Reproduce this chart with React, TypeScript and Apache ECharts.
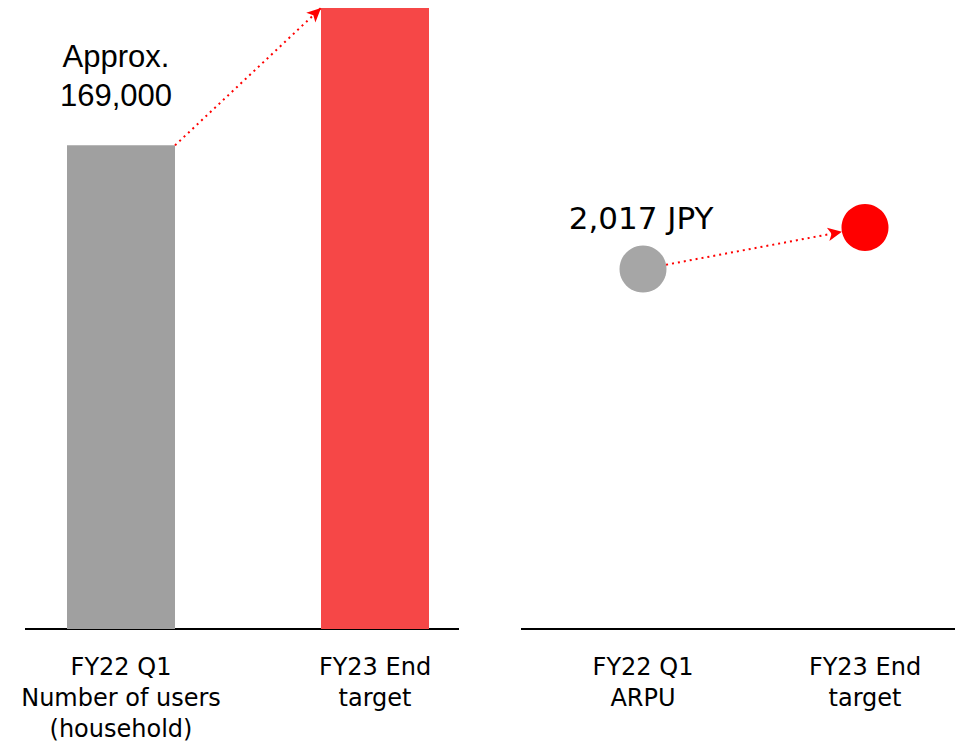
import React, { useEffect, useRef } from "react";
import * as echarts from "echarts";

// ---- data ----
const userCategories = ["FY22 Q1\nNumber of users\n(household)", "FY23 End\ntarget"];
const userValues = [169000, 217000];
const userValueLabels = ["Approx.\n169,000", ""];
const userColors = ["#a0a0a0", "#f64747"];

const arpuCategories = ["FY22 Q1\nARPU", "FY23 End\ntarget"];
const arpuValues = [2017, 2250];
const arpuValueLabels = ["2,017 JPY", ""];
const arpuColors = ["#a6a6a6", "#ff0000"];

const FONT_WIDE = "'DejaVu Sans', Verdana, sans-serif";
const FONT_NARROW = "'Liberation Sans', Arial, sans-serif";

export default function App() {
  const ref = useRef<HTMLDivElement>(null);

  useEffect(() => {
    document.body.style.margin = "0";
    if (!ref.current) return;
    const chart = echarts.init(ref.current, null, { renderer: "svg" });

    const BAR_W = 108;
    const SYM = 47;

    const axisLabel = {
      fontSize: 24,
      lineHeight: 31,
      color: "#000",
      fontFamily: FONT_WIDE,
      margin: 22,
      interval: 0,
    };

    chart.setOption({
      animation: false,
      backgroundColor: "#fff",
      textStyle: { fontFamily: FONT_WIDE },
      grid: [
        { left: -6, width: 508, top: 8, height: 621, outerBoundsMode: "none", containLabel: false },
        { left: 532, width: 444, top: 8, height: 621, outerBoundsMode: "none", containLabel: false },
      ],
      xAxis: [
        {
          type: "category",
          gridIndex: 0,
          data: userCategories,
          axisLine: { show: false },
          axisTick: { show: false },
          axisLabel,
        },
        {
          type: "category",
          gridIndex: 1,
          data: arpuCategories,
          axisLine: { show: false },
          axisTick: { show: false },
          axisLabel,
        },
      ],
      yAxis: [
        { type: "value", gridIndex: 0, min: 0, max: 217000, show: false },
        { type: "value", gridIndex: 1, min: 0, max: 3480, show: false },
      ],
      series: [
        {
          id: "users",
          type: "bar",
          xAxisIndex: 0,
          yAxisIndex: 0,
          barWidth: BAR_W,
          emphasis: { disabled: true },
          data: userValues.map((v, i) => ({
            value: v,
            itemStyle: { color: userColors[i], opacity: 1 },
            label: {
              show: userValueLabels[i] !== "",
              formatter: userValueLabels[i],
              position: "top",
              distance: 30,
              offset: [-5, 0],
              fontSize: 31,
              lineHeight: 39,
              color: "#000",
              fontFamily: FONT_NARROW,
            },
          })),
        },
        {
          id: "arpu",
          type: "scatter",
          xAxisIndex: 1,
          yAxisIndex: 1,
          symbol: "circle",
          symbolSize: SYM,
          emphasis: { disabled: true },
          itemStyle: { opacity: 1 },
          data: arpuValues.map((v, i) => ({
            value: v,
            itemStyle: { color: arpuColors[i], opacity: 1 },
            label: {
              show: arpuValueLabels[i] !== "",
              formatter: arpuValueLabels[i],
              position: "top",
              distance: 8,
              offset: [-2, 0],
              fontSize: 31,
              lineHeight: 39,
              color: "#000",
              opacity: 1,
              fontFamily: FONT_WIDE,
            },
          })),
        },
      ],
    });

    // arrows and baselines derived from the chart's own scales
    const g0 = chart.convertToPixel({ seriesIndex: 0 }, [0, userValues[0]]) as number[];
    const r0 = chart.convertToPixel({ seriesIndex: 0 }, [1, userValues[1]]) as number[];
    const base0 = chart.convertToPixel({ seriesIndex: 0 }, [0, 0]) as number[];
    const g1 = chart.convertToPixel({ seriesIndex: 1 }, [0, arpuValues[0]]) as number[];
    const r1 = chart.convertToPixel({ seriesIndex: 1 }, [1, arpuValues[1]]) as number[];
    const base1 = chart.convertToPixel({ seriesIndex: 1 }, [0, 0]) as number[];

    const dx = r1[0] - g1[0];
    const dy = r1[1] - g1[1];
    const len = Math.sqrt(dx * dx + dy * dy);
    const ux = dx / len;
    const uy = dy / len;
    const rad = SYM / 2;

    const markLineBase = {
      silent: true,
      symbol: ["none", "arrow"],
      symbolSize: [10, 14],
      label: { show: false },
      emphasis: { disabled: true },
      lineStyle: { color: "#ff0000", width: 2, type: [2, 4], opacity: 1 },
    };

    chart.setOption({
      series: [
        {
          id: "users",
          markLine: {
            ...markLineBase,
            data: [
              [
                { x: g0[0] + BAR_W / 2, y: g0[1] },
                { x: r0[0] - BAR_W / 2, y: r0[1] },
              ],
            ],
          },
        },
        {
          id: "arpu",
          markLine: {
            ...markLineBase,
            data: [
              [
                { x: g1[0] + ux * rad, y: g1[1] + uy * rad },
                { x: r1[0] - ux * rad, y: r1[1] - uy * rad },
              ],
            ],
          },
        },
      ],
      graphic: [
        {
          type: "line",
          silent: true,
          shape: { x1: 25, y1: base0[1], x2: 459, y2: base0[1] },
          style: { stroke: "#000", lineWidth: 2 },
        },
        {
          type: "line",
          silent: true,
          shape: { x1: 521, y1: base1[1], x2: 955, y2: base1[1] },
          style: { stroke: "#000", lineWidth: 2 },
        },
      ],
    });

    return () => chart.dispose();
  }, []);

  return <div ref={ref} style={{ width: 961, height: 745 }} />;
}
